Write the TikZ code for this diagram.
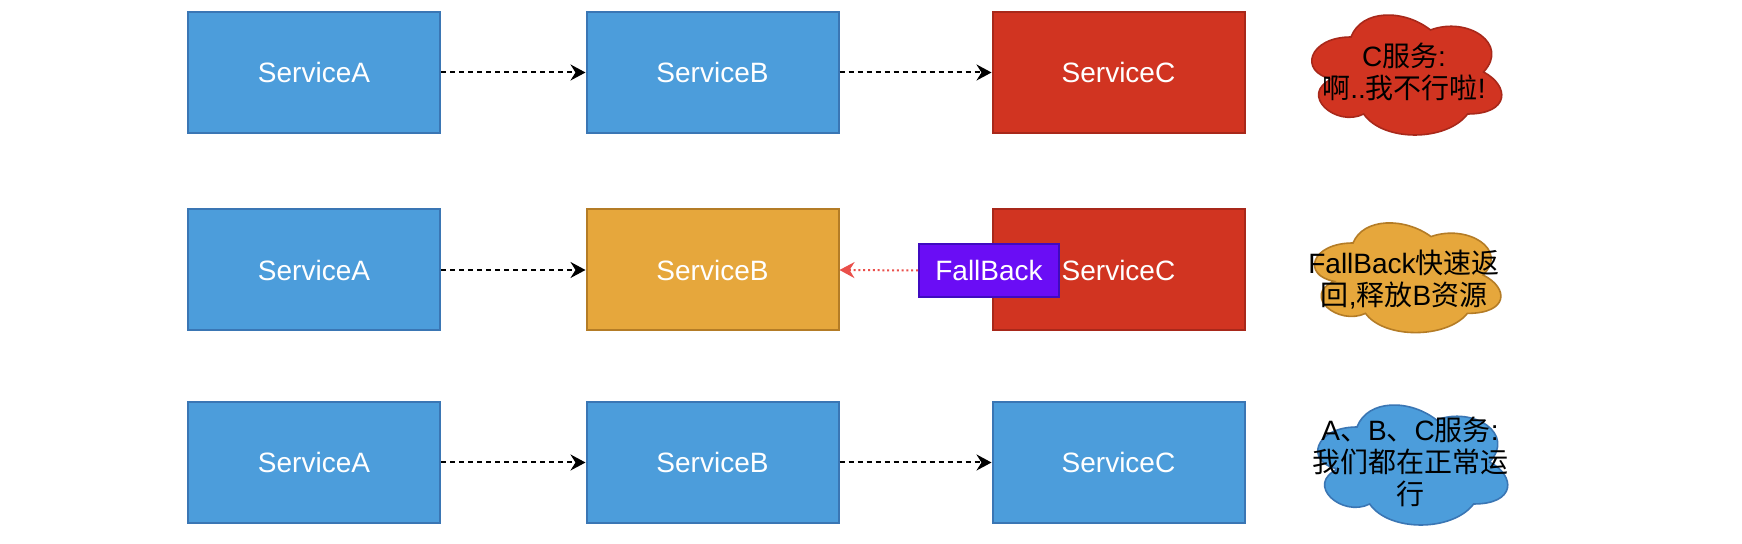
\documentclass[tikz,border=0pt]{standalone}
\usepackage{fontspec}
\setmainfont{Liberation Sans}
\newfontfamily\cj{Noto Sans CJK SC}
\usetikzlibrary{arrows.meta}
\definecolor{svblue}{HTML}{4C9DDB}
\definecolor{svbluedraw}{HTML}{3A76B4}
\definecolor{svred}{HTML}{D13421}
\definecolor{svreddraw}{HTML}{A8281A}
\definecolor{svorange}{HTML}{E6A73C}
\definecolor{svorangedraw}{HTML}{B47C26}
\definecolor{fbpurple}{HTML}{6A0DF5}
\definecolor{fbpurpledraw}{HTML}{3F0BC0}
\definecolor{fbarrow}{HTML}{EA4F4A}
\newcommand{\drawiocloud}[6]{%
  \begin{scope}[shift={(#1,#2)},xscale=#3,yscale=#4]
    \filldraw[fill=#5,draw=#6,line width=0.8pt]
      (0.25,0.25) .. controls (0.05,0.25) and (0,0.5) .. (0.16,0.55)
      .. controls (0,0.66) and (0.18,0.9) .. (0.31,0.8)
      .. controls (0.4,1) and (0.7,1) .. (0.8,0.8)
      .. controls (1,0.8) and (1,0.6) .. (0.875,0.5)
      .. controls (1,0.3) and (0.8,0.1) .. (0.625,0.2)
      .. controls (0.5,0.05) and (0.3,0.05) .. (0.25,0.25) -- cycle;
  \end{scope}}
\begin{document}
\begin{tikzpicture}[x=0.5pt,y=-0.5pt,
  svc/.style={draw, line width=1pt, minimum width=126pt, minimum height=60.5pt,
    text=white, font=\fontsize{14}{16}\selectfont, inner sep=0pt},
  bluebox/.style={svc, fill=svblue, draw=svbluedraw},
  redbox/.style={svc, fill=svred, draw=svreddraw},
  orangebox/.style={svc, fill=svorange, draw=svorangedraw},
  fbbox/.style={draw=fbpurpledraw, fill=fbpurple, line width=1pt, minimum width=70pt,
    minimum height=26.5pt, text=white, font=\fontsize{14}{16}\selectfont, inner sep=0pt},
  cloudtext/.style={align=center, text=black, font=\fontsize{14}{16}\selectfont, inner sep=0pt},
  dasharrow/.style={line width=1pt, dash pattern=on 2.5pt off 2pt,
    -{Stealth[length=7.5pt,width=8pt,inset=2.5pt]}},
  dotarrow/.style={draw=fbarrow, line width=1pt, dash pattern=on 1pt off 1.4pt,
    -{Stealth[length=7.5pt,width=8pt,inset=2.5pt,fill=fbarrow]}}
]
\useasboundingbox (0,0) rectangle (1742,544);
\fill[white] (0,0) rectangle (1742,544);

% row 1
\node[bluebox] (a1) at (314,72.5) {ServiceA};
\node[bluebox] (b1) at (712.5,72.5) {ServiceB};
\node[redbox] (c1) at (1118.5,72.5) {ServiceC};
\draw[dasharrow] (a1.east) -- (b1.west);
\draw[dasharrow] (b1.east) -- (c1.west);

% row 2
\node[bluebox] (a2) at (314,270) {ServiceA};
\node[orangebox] (b2) at (712.5,270) {ServiceB};
\node[redbox] (c2) at (1118.5,270) {ServiceC};
\node[fbbox] (fb) at (989,270.5) {FallBack};
\draw[dasharrow] (a2.east) -- (b2.west);
\draw[dotarrow] (fb.west) -- (b2.east);

% row 3
\node[bluebox] (a3) at (314,462.5) {ServiceA};
\node[bluebox] (b3) at (712.5,462.5) {ServiceB};
\node[bluebox] (c3) at (1118.5,462.5) {ServiceC};
\draw[dasharrow] (a3.east) -- (b3.west);
\draw[dasharrow] (b3.east) -- (c3.west);

% clouds
\drawiocloud{1298}{2}{212}{140}{svred}{svreddraw}
\node[cloudtext] (t1) at (1404,72) {C{\cj 服务}:\\{\cj 啊}..{\cj 我不行啦}!};
\drawiocloud{1301}{211}{208}{128}{svorange}{svorangedraw}
\node[cloudtext] (t2) at (1404,280) {FallBack{\cj 快速返}\\{\cj 回},{\cj 释放}B{\cj 资源}};
\drawiocloud{1304}{392}{212}{140}{svblue}{svbluedraw}
\node[cloudtext] (t3) at (1410,462) {A{\cj 、}B{\cj 、}C{\cj 服务}:\\{\cj 我们都在正常运}\\{\cj 行}};
\end{tikzpicture}
\end{document}
